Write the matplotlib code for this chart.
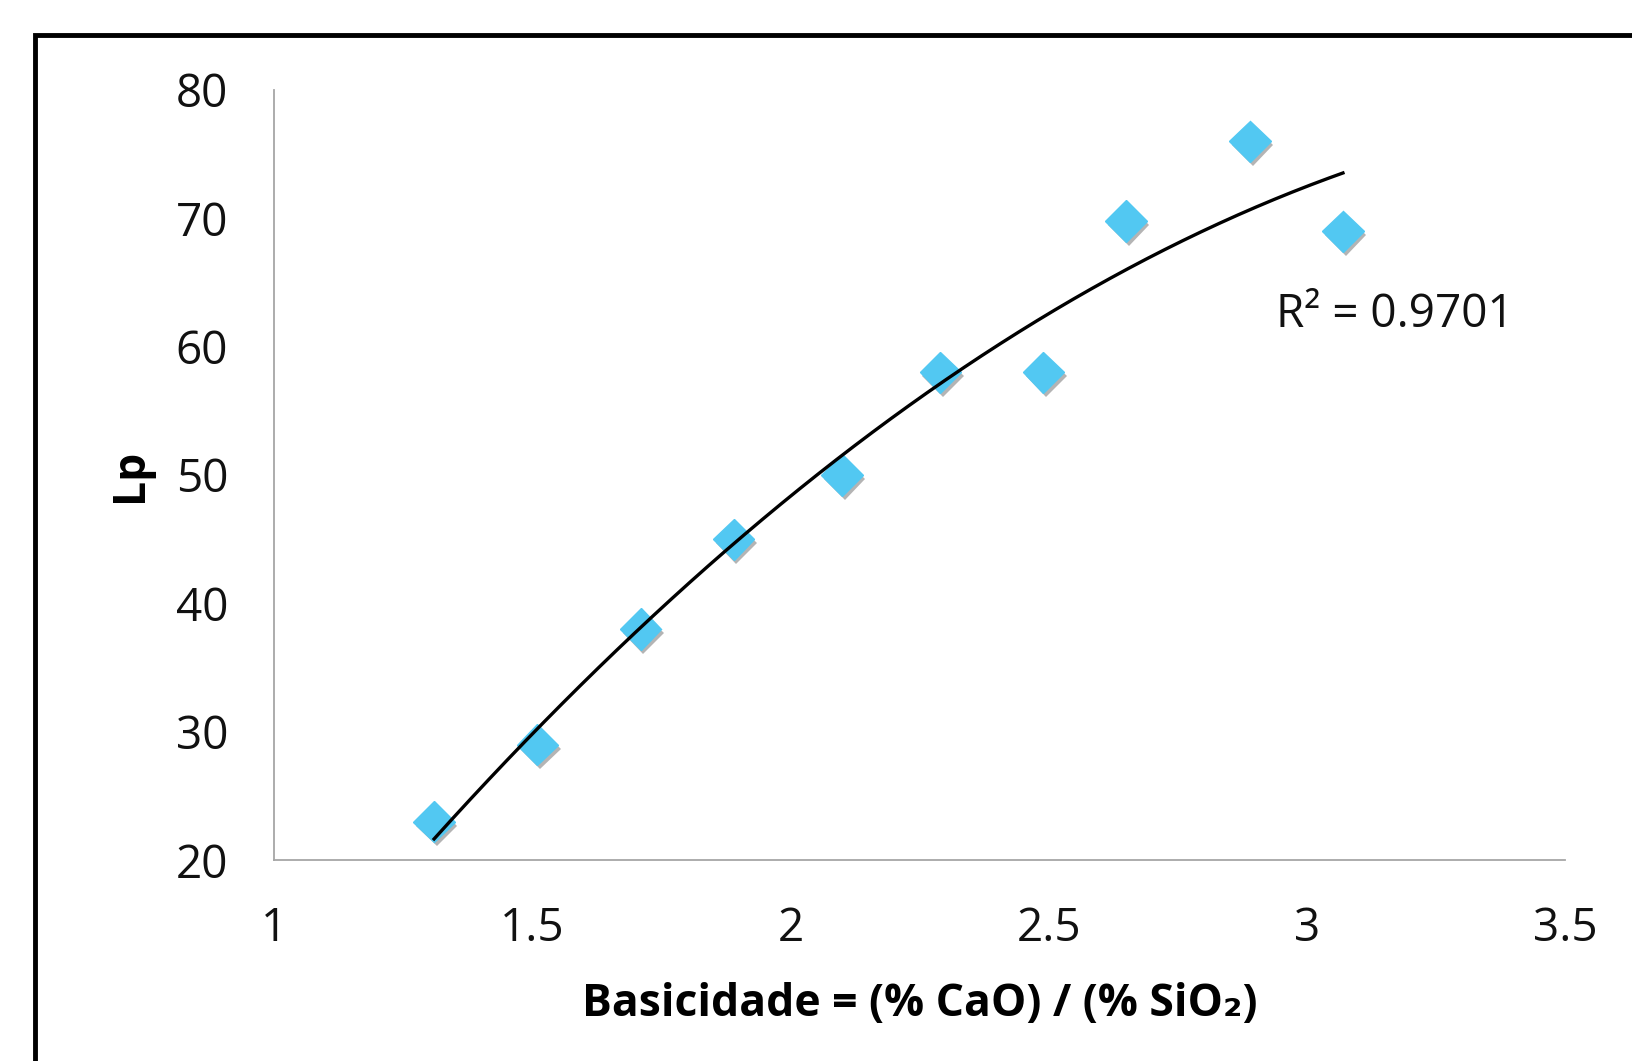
import numpy as np
import matplotlib
matplotlib.use("Agg")
import matplotlib.pyplot as plt
from matplotlib import patheffects as pe
from matplotlib.patches import Rectangle

# basicity vs Lp readings
basicidade = [1.31, 1.51, 1.71, 1.89, 2.10, 2.29, 2.49, 2.65, 2.89, 3.07]
lp = [23.0, 29.0, 38.0, 45.0, 50.0, 58.0, 58.0, 69.8, 76.0, 69.0]
x_ticks = [1, 1.5, 2, 2.5, 3, 3.5]
y_ticks = [20, 30, 40, 50, 60, 70, 80]

plt.rcParams['font.family'] = ['Open Sans', 'DejaVu Sans']

W, H = 1633, 1061
fig = plt.figure(figsize=(W / 100, H / 100), dpi=100)

# black frame around the chart (cut off on right and bottom)
frame = Rectangle((35 / W, -0.05), 1.2, 1 - 35 / H + 0.05, transform=fig.transFigure,
                  fill=False, edgecolor='black', linewidth=3.5)
fig.patches.append(frame)

ax = fig.add_axes([274 / W, (H - 860) / H, (1565 - 274) / W, (860 - 90) / H])

# 2nd order polynomial trendline
coef = np.polyfit(basicidade, lp, 2)
xs = np.linspace(min(basicidade), max(basicidade), 200)
ax.plot(xs, np.polyval(coef, xs), color='black', linewidth=2.4, zorder=3)

ax.plot(basicidade, lp, linestyle='none', marker='D', markersize=21,
        markerfacecolor='#52C8F2', markeredgecolor='#52C8F2', zorder=2,
        path_effects=[pe.SimplePatchShadow(offset=(2, -3), shadow_rgbFace='#444444', alpha=0.4),
                      pe.Normal()])

ax.set_xlim(1, 3.5)
ax.set_ylim(20, 80)
ax.set_xticks(x_ticks)
ax.set_xticklabels(['1', '1.5', '2', '2.5', '3', '3.5'])
ax.set_yticks(y_ticks)
ax.tick_params(length=0, labelsize=33, colors='#111111')
ax.tick_params(axis='y', pad=33)
ax.tick_params(axis='x', pad=33)

for side in ['top', 'right']:
    ax.spines[side].set_visible(False)
for side in ['left', 'bottom']:
    ax.spines[side].set_color('#A6A6A6')
    ax.spines[side].set_linewidth(1.3)

ax.set_xlabel('Basicidade = (% CaO) / (% SiO\u2082)', fontsize=32, fontweight='bold', labelpad=22)
ax.set_ylabel('Lp', fontsize=32, fontweight='bold', labelpad=16)

ax.text(2.94, 62.5, 'R\u00b2 = 0.9701', fontsize=33, ha='left', va='center', color='#111111')

fig.savefig('out.png', dpi=100)
